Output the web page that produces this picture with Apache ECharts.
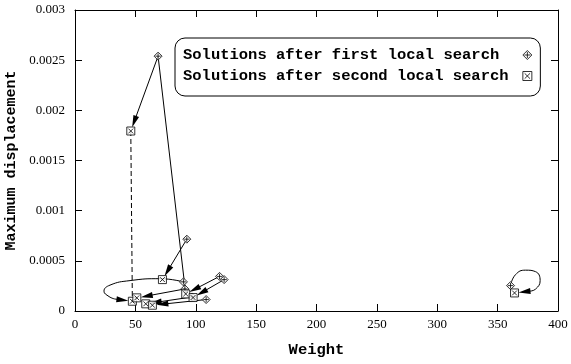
<!DOCTYPE html>
<html><head><meta charset="utf-8">
<script src="https://cdn.jsdelivr.net/npm/echarts@6/dist/echarts.min.js"></script>
<style>html,body{margin:0;padding:0;background:#fff}#c{width:571px;height:364px}</style>
</head><body><div id="c"></div>
<script>
// ---- data ----
const xTickLabels = ['0','50','100','150','200','250','300','350','400'];
const yTickLabels = ['0','0.0005','0.001','0.0015','0.002','0.0025','0.003'];
const firstSearch = [[68.8,0.00254],[92.6,0.000716],[89.8,0.00029],[91,0.00022],[108.6,0.000114],[119.7,0.000345],[123.5,0.000313],[97,0.00014],[360.7,0.000253]];
const secondSearch = [[46.2,0.001794],[47.5,0.0000972],[51.2,0.000131],[58.6,0.0000714],[64.1,0.0000575],[72.4,0.000313],[91.7,0.00017],[97.8,0.000134],[364,0.00018]];
// arrows first -> second : [firstIndex, secondIndex]
const arrowPairs = [[0,0],[1,5],[3,2],[4,4],[7,3],[5,6],[6,7]];
const plainPairs = [[0,6]];
const dashedPair = [0,1];
// curved paths (waypoints) ending with an arrow into a second-search solution
const loopLeft = [[89.8,0.00029],[70.5,0.000322],[45.6,0.000303],[29,0.000258],[24,0.000198],[28.2,0.000144],[33.2,0.000119]];
const loopLeftTarget = 1;
const loopRight = [[360.7,0.000253],[364.8,0.000362],[373.1,0.000407],[381.4,0.000392],[385.2,0.000303],[381.4,0.000218],[376.5,0.000198]];
const loopRightTarget = 8;

const NAME1 = 'Solutions after first local search';
const NAME2 = 'Solutions after second local search';
const DIAMOND = 'path://M5,0L10,5L5,10L0,5Z M5,1.6L5,8.4 M1.6,5L8.4,5';
const SQUARE = 'path://M0,0L10,0L10,10L0,10Z M2,2L8,8 M8,2L2,8';

const chart = echarts.init(document.getElementById('c'), null, {renderer:'canvas'});
const black = '#000';
const monoBold = {fontFamily:'Liberation Mono', fontWeight:'bold', fontSize:15, color:black};

function axisCommon(){
  return {
    axisLine:{show:true, onZero:false, lineStyle:{color:black, width:1}},
    axisTick:{show:true, inside:true, length:7, lineStyle:{color:black, width:1}},
    splitLine:{show:false}
  };
}

function rawArrows(){
  const a = arrowPairs.map(p => [firstSearch[p[0]], secondSearch[p[1]]]);
  a.push([loopLeft[loopLeft.length-1], secondSearch[loopLeftTarget]]);
  a.push([loopRight[loopRight.length-1], secondSearch[loopRightTarget]]);
  return a;
}

const option = {
  animation:false,
  backgroundColor:'#fff',
  grid:{left:75, right:13, top:10, bottom:53, containLabel:false, outerBoundsMode:'none'},
  legend:{
    orient:'vertical', left:175, top:38,
    align:'right',
    selectedMode:false,
    borderColor:black, borderWidth:1, borderRadius:10,
    padding:[9,8,12,8],
    itemGap:5, itemWidth:9, itemHeight:9,
    textStyle:Object.assign({}, monoBold, {fontSize:15.5}),
    formatter: name => name.padEnd(36, ' '),
    data:[
      {name:NAME1, icon:DIAMOND, itemStyle:{color:'#fff', borderColor:black, borderWidth:1}},
      {name:NAME2, icon:SQUARE, itemStyle:{color:'#fff', borderColor:black, borderWidth:1}}
    ]
  },
  xAxis:[
    Object.assign({type:'value', min:0, max:400, interval:50, position:'bottom',
      axisLabel:{color:black, fontFamily:'Liberation Serif', fontSize:13, margin:7, formatter:(v,i)=>xTickLabels[i]},
      name:'Weight', nameLocation:'middle', nameGap:31, nameTextStyle:Object.assign({}, monoBold, {fontSize:15.5})}, axisCommon()),
    Object.assign({type:'value', min:0, max:400, interval:50, position:'top', axisLabel:{show:false}}, axisCommon())
  ],
  yAxis:[
    Object.assign({type:'value', min:0, max:0.003, interval:0.0005, position:'left',
      axisLabel:{color:black, fontFamily:'Liberation Serif', fontSize:13, margin:10, formatter:(v,i)=>yTickLabels[i]},
      name:'Maximum displacement', nameLocation:'middle', nameGap:52, nameTextStyle:monoBold}, axisCommon()),
    Object.assign({type:'value', min:0, max:0.003, interval:0.0005, position:'right', axisLabel:{show:false}}, axisCommon())
  ],
  series:[
    {name:NAME1, type:'scatter', z:10, symbol:DIAMOND, symbolSize:8, data:firstSearch,
     itemStyle:{color:'#fff', borderColor:black, borderWidth:1}},
    {name:NAME2, type:'scatter', z:11, symbol:SQUARE, symbolSize:8, data:secondSearch,
     itemStyle:{color:'#fff', borderColor:black, borderWidth:1}},
    {id:'arrows', type:'lines', coordinateSystem:'cartesian2d', z:5, silent:true,
     symbol:['none','triangle'], symbolSize:[[1,1],[6,12]],
     lineStyle:{color:black, width:1, opacity:1, curveness:0},
     itemStyle:{color:black},
     data: rawArrows().map(c => ({coords:c}))},
    {type:'lines', coordinateSystem:'cartesian2d', z:5, silent:true,
     symbol:['none','none'],
     lineStyle:{color:black, width:1, opacity:1},
     data: plainPairs.map(p => ({coords:[firstSearch[p[0]], secondSearch[p[1]]]}))},
    {type:'line', z:4, silent:true, showSymbol:false, symbol:'none', data:[secondSearch[dashedPair[0]], secondSearch[dashedPair[1]]],
     lineStyle:{color:black, width:1, type:[5,3]}},
    {type:'line', z:4, silent:true, showSymbol:false, symbol:'none', smooth:0.5, data:loopLeft,
     lineStyle:{color:black, width:1}},
    {type:'line', z:4, silent:true, showSymbol:false, symbol:'none', smooth:0.5, data:loopRight,
     lineStyle:{color:black, width:1}}
  ]
};
chart.setOption(option);

// shorten arrow ends so the head tip stops at the marker edge
function shorten(from, to, back){
  const p0 = chart.convertToPixel({seriesIndex:0}, from);
  const p1 = chart.convertToPixel({seriesIndex:0}, to);
  const dx = p1[0]-p0[0], dy = p1[1]-p0[1];
  const L = Math.hypot(dx, dy) || 1;
  const b = Math.min(back, L*0.8);
  return chart.convertFromPixel({seriesIndex:0}, [p1[0]-dx/L*b, p1[1]-dy/L*b]);
}
chart.setOption({series:[{id:'arrows', data: rawArrows().map(c => ({coords:[c[0], shorten(c[0], c[1], 10)]}))}]});
</script></body></html>
